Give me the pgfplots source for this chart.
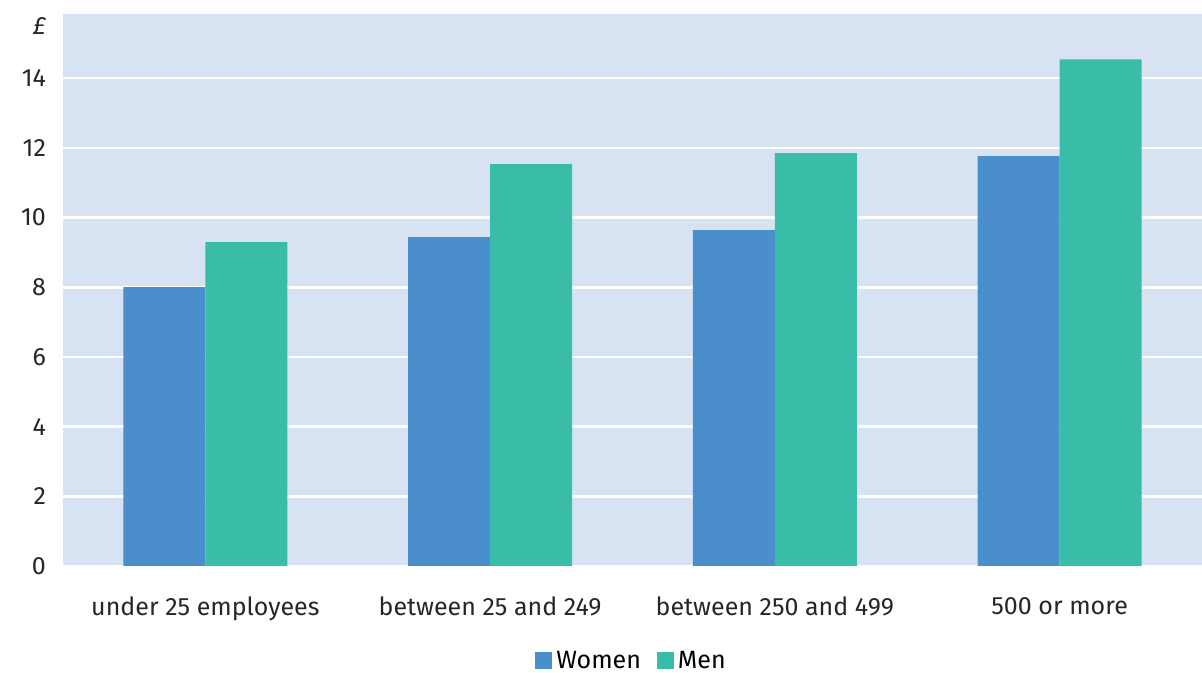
\documentclass[border=0pt]{standalone}
\usepackage{pgfplots}
\pgfplotsset{compat=1.18}
\usepackage{fontspec}
\setmainfont{Fira Sans}
\definecolor{women}{RGB}{74,143,204}
\definecolor{men}{RGB}{58,189,168}
\definecolor{bgc}{RGB}{215,227,242}
\begin{document}
\begin{tikzpicture}[x=1pt,y=1pt]
\useasboundingbox (0,0) rectangle (601,336.5);
\begin{axis}[
  at={(31.5pt,53.5pt)}, anchor=south west,
  scale only axis, width=569.5pt, height=276pt,
  xmin=-0.5, xmax=3.5, ymin=0, ymax=15.84,
  axis background/.style={fill=bgc},
  axis line style={draw=none},
  ybar=0pt, bar width=0.288,
  xtick={0,1,2,3},
  xticklabels={under 25 employees, between 25 and 249, between 250 and 499, 500 or more},
  ytick={0,2,...,14},
  ymajorgrids, grid style={white, line width=1.3pt},
  major tick length=0pt,
  tick label style={font=\fontsize{12.5}{14}\selectfont, text=black!85},
  yticklabel style={xshift=-5pt},
  xticklabel style={yshift=-12pt},
  /pgf/number format/assume math mode=true,
  legend style={draw=none, fill=none, at={(0.5,-0.172)}, anchor=center, legend columns=2, font=\fontsize{12.5}{14}\selectfont, inner sep=0pt, /tikz/every even column/.append style={column sep=6pt}},
  legend image code/.code={\fill[#1] (0pt,-4.2pt) rectangle (8.5pt,4.3pt);},
  clip=false,
]
\addplot[fill=women, draw=none] coordinates {(0,8.0) (1,9.44) (2,9.64) (3,11.76)};
\addplot[fill=men, draw=none] coordinates {(0,9.29) (1,11.53) (2,11.85) (3,14.54)};
\legend{Women, Men}
\node[anchor=east, font=\fontsize{12.5}{14}\selectfont\itshape, text=black!85] at (axis cs:-0.5,15.5) [xshift=-5pt] {£};
\end{axis}
\end{tikzpicture}
\end{document}
